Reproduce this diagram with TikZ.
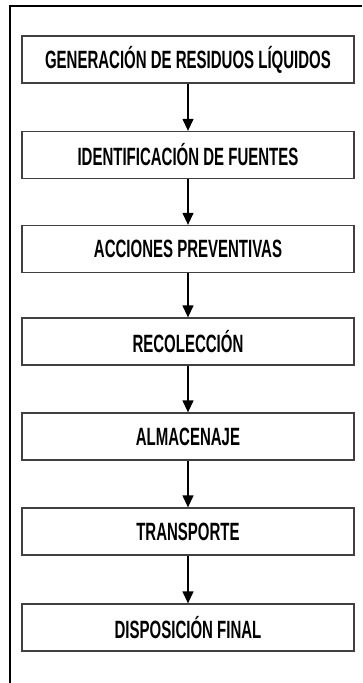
\documentclass[tikz,border=0pt]{standalone}
\usepackage{fontspec}
\setmainfont{Liberation Sans}
\usetikzlibrary{arrows.meta}
\newcommand{\boxtext}[1]{\scalebox{0.6}[1]{\fontsize{25}{25}\selectfont\bfseries #1}}
\tikzset{
  stepbox/.style={draw=black!75, line width=1.3pt, rectangle, minimum width=332pt, minimum height=47pt, inner sep=0pt, text=black},
  flow/.style={line width=1.3pt, -{Triangle[length=12pt,width=11pt]}},
  frame/.style={line width=1.8pt, black}
}
\begin{document}
\begin{tikzpicture}[x=1pt,y=-1pt]
\useasboundingbox (0,0) rectangle (362,683);
\fill[white] (0,0) rectangle (362,683);
\coordinate (fb) at (10,683);
\coordinate (fc) at (10,6);
\coordinate (fr) at (362,6);
\draw[frame] (fb) -- (fc) -- (fr);
\node[stepbox] (b1) at (188,59.5) {\boxtext{GENERACIÓN DE RESIDUOS LÍQUIDOS}};
\node[stepbox] (b2) at (188,155) {\boxtext{IDENTIFICACIÓN DE FUENTES}};
\node[stepbox] (b3) at (188,249) {\boxtext{ACCIONES PREVENTIVAS}};
\node[stepbox] (b4) at (188,341.5) {\boxtext{RECOLECCIÓN}};
\node[stepbox] (b5) at (188,436.5) {\boxtext{ALMACENAJE}};
\node[stepbox] (b6) at (188,531.5) {\boxtext{TRANSPORTE}};
\node[stepbox] (b7) at (188,627.5) {\boxtext{DISPOSICIÓN FINAL}};
\foreach \a/\b in {b1/b2,b2/b3,b3/b4,b4/b5,b5/b6,b6/b7}
  \draw[flow] (\a.south) -- (\b.north);
\end{tikzpicture}
\end{document}
